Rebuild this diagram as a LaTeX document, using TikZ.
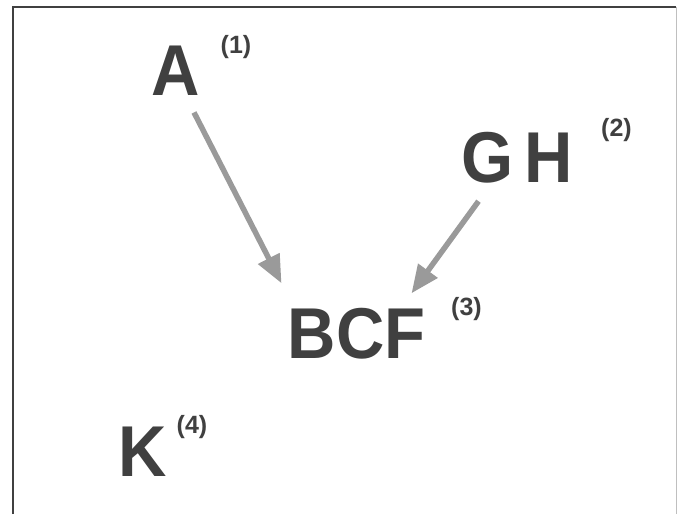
\documentclass[tikz,border=0pt]{standalone}
\usepackage{fontspec}
\setmainfont{Liberation Sans}
\newfontfamily\setfont[FakeStretch=0.93]{Liberation Sans}
\usetikzlibrary{arrows.meta}

\definecolor{lettergray}{HTML}{404040}
\definecolor{arrowgray}{HTML}{9A9A9A}

\begin{document}
\begin{tikzpicture}[x=1pt,y=-1pt]
    \tikzstyle{set}=[inner sep=0pt,text=lettergray,font=\setfont\fontsize{72}{80}\selectfont\bfseries]
    \tikzstyle{idx}=[inner sep=0pt,text=lettergray,font=\fontsize{25}{28}\selectfont\bfseries]
    \tikzstyle{link}=[draw=arrowgray,line width=5.5pt,-{Triangle[length=28pt,width=23pt]}]

    \useasboundingbox (0,0) rectangle (677,514);

    % Frame (cut off at the bottom)
    \draw[line width=2pt,draw=black!75] (13,514) -- (13,7) -- (676,7);
    \draw[line width=1pt,draw=black!25] (676,7) -- (676,514);

    % Draw the sets and their indices
    \node[set] (A) at (176,70.5) {A};
    \node[idx] (A-i) at (236,47.5) {(1)};
    \node[set] (GH) at (517.5,157.5) {G\hspace{0.15em}H};
    \node[idx] (GH-i) at (616.5,130) {(2)};
    \node[set] (BCF) at (356.5,334) {BCF};
    \node[idx] (BCF-i) at (466.5,309.5) {(3)};
    \node[set] (K) at (142.5,451.5) {K};
    \node[idx] (K-i) at (192,427.5) {(4)};

    % Connect the merged sets
    \draw[link] ([xshift=18pt,yshift=-17pt]A.south) -- ([xshift=-6pt,yshift=25pt]BCF.north west);
    \draw[link] ([xshift=-39pt,yshift=-18pt]GH.south) -- ([xshift=-14pt,yshift=15pt]BCF.north east);
\end{tikzpicture}
\end{document}
